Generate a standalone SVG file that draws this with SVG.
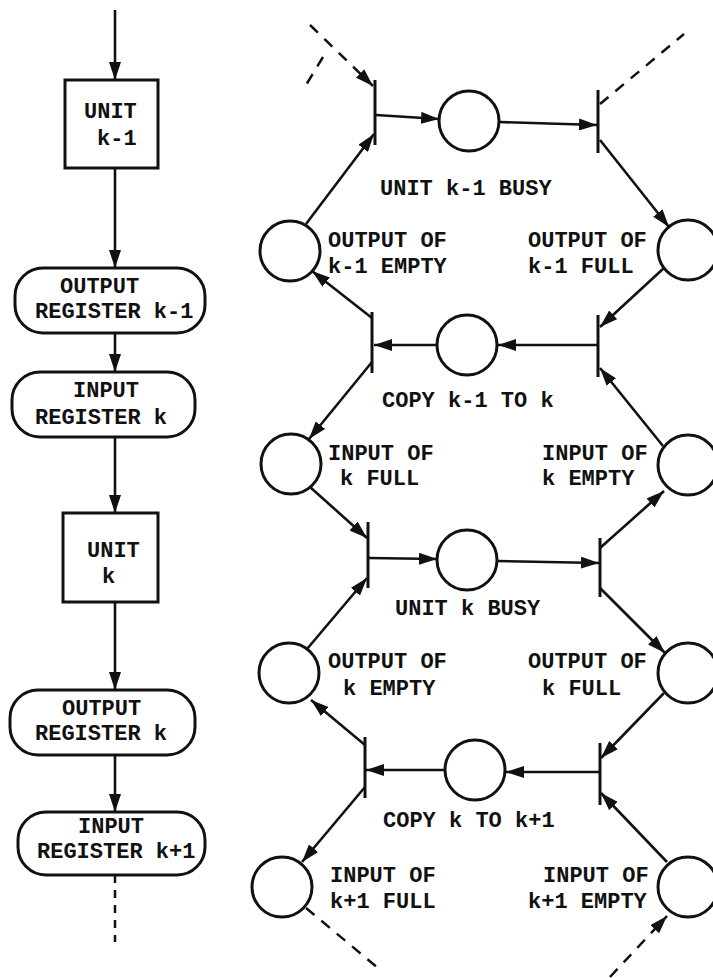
<svg xmlns="http://www.w3.org/2000/svg" width="713" height="978" viewBox="0 0 713 978">
<style>
.t{font-family:"Liberation Mono","Courier New",monospace;font-size:22px;font-weight:bold;fill:#111}
.box{fill:none;stroke:#111;stroke-width:3}
.pl{fill:none;stroke:#111;stroke-width:3}
.tr{stroke:#111;stroke-width:3;fill:none}
.e{stroke:#111;stroke-width:2.6;fill:none;marker-end:url(#ah)}
.d{stroke:#111;stroke-width:2.5;fill:none;stroke-dasharray:11 9}
.da{stroke:#111;stroke-width:2.5;fill:none;stroke-dasharray:11 9;marker-end:url(#ah)}
</style>
<defs>
<marker id="ah" markerUnits="userSpaceOnUse" markerWidth="19" markerHeight="12" refX="18" refY="6" orient="auto">
<path d="M0,0 L18,6 L0,12 z" fill="#111"/>
</marker>
</defs>
<rect width="713" height="978" fill="#fff"/>

<!-- Left flow chart -->
<g id="unit-k-1"><rect class="box" x="65" y="80" width="93" height="88"/><text class="t" x="84" y="118">UNIT</text><text class="t" x="97" y="145">k-1</text></g>
<g id="outreg-k-1"><rect class="box" x="15" y="268" width="190" height="65" rx="28"/><text class="t" x="60" y="293">OUTPUT</text><text class="t" x="35" y="318">REGISTER k-1</text></g>
<g id="inreg-k"><rect class="box" x="12" y="372" width="183" height="65" rx="28"/><text class="t" x="73" y="397">INPUT</text><text class="t" x="35" y="424">REGISTER k</text></g>
<g id="unit-k"><rect class="box" x="63" y="513" width="95" height="89"/><text class="t" x="87" y="557">UNIT</text><text class="t" x="102" y="583">k</text></g>
<g id="outreg-k"><rect class="box" x="10" y="690" width="185" height="65" rx="28"/><text class="t" x="62" y="715">OUTPUT</text><text class="t" x="35" y="740">REGISTER k</text></g>
<g id="inreg-k1"><rect class="box" x="18" y="812" width="187" height="63" rx="28"/><text class="t" x="78" y="833">INPUT</text><text class="t" x="37" y="858">REGISTER k+1</text></g>

<!-- Petri net places -->
<g id="p-busy-k-1"><circle class="pl" cx="469" cy="121" r="30"/><text class="t" x="380" y="195">UNIT k-1 BUSY</text></g>
<g id="p-out-k-1-empty"><circle class="pl" cx="290" cy="251" r="30"/><text class="t" x="328" y="247">OUTPUT OF</text><text class="t" x="328" y="273">k-1 EMPTY</text></g>
<g id="p-out-k-1-full"><circle class="pl" cx="688" cy="250" r="30"/><text class="t" x="528" y="247">OUTPUT OF</text><text class="t" x="528" y="273">k-1 FULL</text></g>
<g id="p-copy-k-1"><circle class="pl" cx="467" cy="345" r="30"/><text class="t" x="382" y="407">COPY k-1 TO k</text></g>
<g id="p-in-k-full"><circle class="pl" cx="291" cy="464" r="30"/><text class="t" x="328" y="460">INPUT OF</text><text class="t" x="340" y="485">k FULL</text></g>
<g id="p-in-k-empty"><circle class="pl" cx="688" cy="465" r="30"/><text class="t" x="542" y="460">INPUT OF</text><text class="t" x="542" y="485">k EMPTY</text></g>
<g id="p-busy-k"><circle class="pl" cx="467" cy="560" r="30"/><text class="t" x="395" y="615">UNIT k BUSY</text></g>
<g id="p-out-k-empty"><circle class="pl" cx="289" cy="673" r="30"/><text class="t" x="328" y="668">OUTPUT OF</text><text class="t" x="343" y="695">k EMPTY</text></g>
<g id="p-out-k-full"><circle class="pl" cx="688" cy="673" r="30"/><text class="t" x="528" y="668">OUTPUT OF</text><text class="t" x="542" y="695">k FULL</text></g>
<g id="p-copy-k"><circle class="pl" cx="475" cy="770" r="30"/><text class="t" x="383" y="827">COPY k TO k+1</text></g>
<g id="p-in-k1-full"><circle class="pl" cx="282" cy="887" r="30"/><text class="t" x="330" y="882">INPUT OF</text><text class="t" x="330" y="908">k+1 FULL</text></g>
<g id="p-in-k1-empty"><circle class="pl" cx="688" cy="887" r="30"/><text class="t" x="543" y="882">INPUT OF</text><text class="t" x="528" y="908">k+1 EMPTY</text></g>

<!-- Petri net transitions -->
<g id="t1-left"><line class="tr" x1="375" y1="80" x2="375" y2="145"/></g>
<g id="t1-right"><line class="tr" x1="598" y1="90" x2="598" y2="153"/></g>
<g id="t2-left"><line class="tr" x1="372" y1="312" x2="372" y2="373"/></g>
<g id="t2-right"><line class="tr" x1="598" y1="315" x2="598" y2="377"/></g>
<g id="t3-left"><line class="tr" x1="368" y1="522" x2="368" y2="588"/></g>
<g id="t3-right"><line class="tr" x1="600" y1="538" x2="600" y2="597"/></g>
<g id="t4-left"><line class="tr" x1="365" y1="737" x2="365" y2="798"/></g>
<g id="t4-right"><line class="tr" x1="600" y1="743" x2="600" y2="805"/></g>

<g id="connectors">
<!-- left flow -->
<line class="e" x1="115" y1="10" x2="115" y2="80"/>
<line class="e" x1="115" y1="168" x2="115" y2="268"/>
<line class="e" x1="115" y1="333" x2="115" y2="372"/>
<line class="e" x1="115" y1="437" x2="115" y2="513"/>
<line class="e" x1="115" y1="602" x2="115" y2="690"/>
<line class="e" x1="115" y1="755" x2="115" y2="812"/>
<line x1="115" y1="875" x2="115" y2="942" stroke="#111" stroke-width="2.5" stroke-dasharray="8 7"/>

<!-- petri net arcs -->
<line class="e" x1="306" y1="224" x2="374" y2="134"/>
<line class="e" x1="376" y1="115" x2="439" y2="119"/>
<line class="e" x1="499" y1="122" x2="597" y2="125"/>
<line class="e" x1="600" y1="140" x2="669" y2="227"/>
<line class="e" x1="664" y1="268" x2="600" y2="327"/>
<line class="e" x1="598" y1="345" x2="498" y2="345"/>
<line class="e" x1="437" y1="345" x2="374" y2="345"/>
<line class="e" x1="372" y1="318" x2="312" y2="271"/>
<line class="e" x1="372" y1="362" x2="309" y2="439"/>
<line class="e" x1="663" y1="446" x2="600" y2="368"/>
<line class="e" x1="310" y1="487" x2="367" y2="538"/>
<line class="e" x1="307" y1="649" x2="367" y2="578"/>
<line class="e" x1="369" y1="558" x2="437" y2="559"/>
<line class="e" x1="497" y1="561" x2="599" y2="563"/>
<line class="e" x1="600" y1="548" x2="664" y2="491"/>
<line class="e" x1="600" y1="588" x2="665" y2="653"/>
<line class="e" x1="664" y1="693" x2="601" y2="758"/>
<line class="e" x1="600" y1="772" x2="506" y2="772"/>
<line class="e" x1="445" y1="770" x2="366" y2="770"/>
<line class="e" x1="365" y1="745" x2="311" y2="700"/>
<line class="e" x1="365" y1="787" x2="302" y2="862"/>
<line class="e" x1="667" y1="862" x2="601" y2="793"/>
<!-- dashed continuations -->
<line class="da" x1="310" y1="25" x2="373" y2="86"/>
<line class="d" x1="323" y1="57" x2="303" y2="90"/>
<line class="d" x1="600" y1="104" x2="684" y2="34"/>
<line class="d" x1="306" y1="908" x2="378" y2="968"/>
<line class="da" x1="610" y1="977" x2="667" y2="916"/>
</g>
</svg>
